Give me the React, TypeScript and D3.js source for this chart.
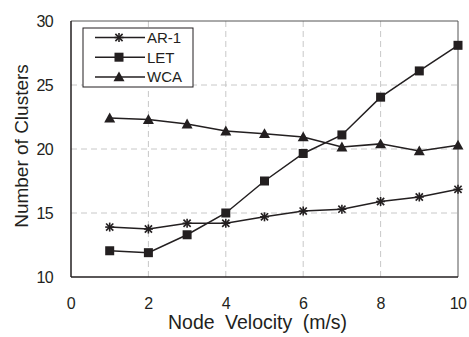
import React from "react";
import * as d3 from "d3";

const velocities = [1, 2, 3, 4, 5, 6, 7, 8, 9, 10];
const ar1 = [13.9, 13.75, 14.2, 14.2, 14.7, 15.15, 15.3, 15.9, 16.25, 16.85];
const let_ = [12.05, 11.9, 13.3, 15.0, 17.5, 19.65, 21.1, 24.05, 26.1, 28.1];
const wca = [22.42, 22.3, 21.95, 21.4, 21.2, 20.94, 20.15, 20.4, 19.85, 20.3];
const xTicks = [0, 2, 4, 6, 8, 10];
const yTicks = [10, 15, 20, 25, 30];
const seriesNames = ["AR-1", "LET", "WCA"];

const W = 469, H = 337;
const M = { left: 71, right: 11, top: 21, bottom: 60 };

function Marker({ type, x, y }: { type: string; x: number; y: number }) {
  if (type === "LET") {
    return <rect x={x - 4.5} y={y - 4.5} width={9} height={9} fill="#231f20" />;
  }
  if (type === "WCA") {
    const s = 5.5;
    return <path d={`M${x},${y - s}L${x + s},${y + s * 0.8}L${x - s},${y + s * 0.8}Z`} fill="#231f20" />;
  }
  const r = 4.5;
  return (
    <g stroke="#231f20" strokeWidth={1.6}>
      <line x1={x - r} y1={y} x2={x + r} y2={y} />
      <line x1={x} y1={y - r} x2={x} y2={y + r} />
      <line x1={x - r * 0.8} y1={y - r * 0.8} x2={x + r * 0.8} y2={y + r * 0.8} />
      <line x1={x - r * 0.8} y1={y + r * 0.8} x2={x + r * 0.8} y2={y - r * 0.8} />
    </g>
  );
}

export default function App() {
  const x = d3.scaleLinear().domain([0, 10]).range([M.left, W - M.right]);
  const y = d3.scaleLinear().domain([10, 30]).range([H - M.bottom, M.top]);
  const line = d3.line<number>().x((_, i) => x(velocities[i])).y((d) => y(d));
  const data: [string, number[]][] = [["AR-1", ar1], ["LET", let_], ["WCA", wca]];
  const font = "'Liberation Sans', Arial, Helvetica, sans-serif";
  const x0 = x(0), x1 = x(10), y0 = y(10), y1 = y(30);
  return (
    <svg width={W} height={H} style={{ position: "absolute", left: 0, top: 0, background: "#fff" }} fontFamily={font}>
      {xTicks.filter((t) => t > 0 && t < 10).map((t) => (
        <line key={"gx" + t} x1={x(t)} x2={x(t)} y1={y0} y2={y1} stroke="#c8c8c8" strokeDasharray="6,4" strokeWidth={1} />
      ))}
      {yTicks.filter((t) => t > 10 && t < 30).map((t) => (
        <line key={"gy" + t} x1={x0} x2={x1} y1={y(t)} y2={y(t)} stroke="#c8c8c8" strokeDasharray="6,4" strokeWidth={1} />
      ))}
      <line x1={x0} x2={x1} y1={y1} y2={y1} stroke="#555" strokeWidth={1} />
      <line x1={x1} x2={x1} y1={y1} y2={y0} stroke="#555" strokeWidth={1} />
      <line x1={x0} x2={x0} y1={y1} y2={y0} stroke="#231f20" strokeWidth={1.5} />
      <line x1={x0} x2={x1} y1={y0} y2={y0} stroke="#231f20" strokeWidth={1.5} />
      {data.map(([name, vals]) => (
        <g key={name}>
          <path d={line(vals) || ""} fill="none" stroke="#231f20" strokeWidth={1.5} />
          {vals.map((v, i) => (
            <Marker key={i} type={name} x={x(velocities[i])} y={y(v)} />
          ))}
        </g>
      ))}
      {yTicks.map((t) => (
        <text key={"yt" + t} x={x0 - 18} y={y(t)} dy="0.35em" textAnchor="end" fontSize={16} fill="#231f20" letterSpacing={-0.6}>
          {t}
        </text>
      ))}
      {xTicks.map((t) => (
        <text key={"xt" + t} x={x(t)} y={y0 + 32} textAnchor="middle" fontSize={16} fill="#231f20" letterSpacing={-0.6}>
          {t}
        </text>
      ))}
      <text x={168} y={329} fontSize={19.5} fill="#231f20" wordSpacing={5}>
        Node Velocity (m/s)
      </text>
      <text transform={`translate(28,146) rotate(-90)`} textAnchor="middle" fontSize={19} fill="#231f20">
        Number of Clusters
      </text>
      <g>
        <rect x={83} y={28} width={110} height={59} fill="#fff" stroke="#231f20" strokeWidth={1} />
        {seriesNames.map((n, i) => {
          const ly = 37.5 + i * 19.7;
          return (
            <g key={n}>
              <line x1={95} x2={145} y1={ly} y2={ly} stroke="#231f20" strokeWidth={1.5} />
              <Marker type={n} x={119} y={ly} />
              <text x={147} y={ly} dy="0.36em" fontSize={15} fill="#231f20">
                {n}
              </text>
            </g>
          );
        })}
      </g>
    </svg>
  );
}
